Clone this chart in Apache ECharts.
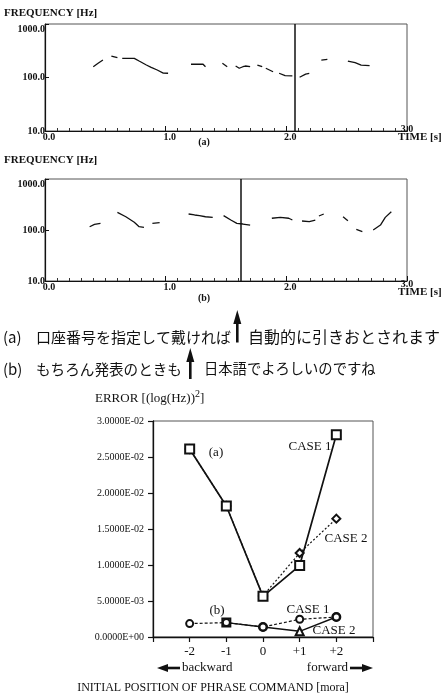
<!DOCTYPE html>
<html><head><meta charset="utf-8">
<script src="https://cdn.jsdelivr.net/npm/echarts@6/dist/echarts.min.js"></script>
<style>html,body{margin:0;padding:0;background:#fff}#c{width:442px;height:696px}</style>
</head><body><div id="c"></div>
<script>
// ---------- data ----------
const freqTicks = [10, 100, 1000];
const timeRange = [0, 3];
const markerTimeA = 2.07;
const markerTimeB = 1.62;

// F0 contour segments, panel (a): [time s, frequency Hz]
const f0A1 = [[0.40,159],[0.44,184],[0.48,212]];
const f0A2 = [[0.55,252],[0.60,234]];
const f0A3 = [[0.64,228],[0.74,228],[0.78,203],[0.84,171],[0.88,155],[0.93,138],[0.98,121],[1.02,120]];
const f0A4 = [[1.21,177],[1.31,177],[1.33,159]];
const f0A5 = [[1.47,184],[1.51,159]];
const f0A6 = [[1.58,164],[1.61,149],[1.64,159],[1.66,164],[1.70,159]];
const f0A7 = [[1.76,171],[1.80,159]];
const f0A8 = [[1.83,149],[1.89,128]];
const f0A9 = [[1.94,120],[1.99,108],[2.05,107]];
const f0A10 = [[2.11,101],[2.16,116],[2.19,120]];
const f0A11 = [[2.29,212],[2.34,219]];
const f0A12 = [[2.51,203],[2.57,189],[2.62,171],[2.69,166]];

// F0 contour segments, panel (b)
const f0B1 = [[0.37,116],[0.41,129],[0.46,135]];
const f0B2 = [[0.60,222],[0.67,182],[0.74,142],[0.78,116],[0.82,113]];
const f0B3 = [[0.89,135],[0.95,139]];
const f0B4 = [[1.19,206],[1.24,197],[1.28,191],[1.33,182],[1.39,177]];
const f0B5 = [[1.48,191],[1.54,157],[1.59,135],[1.64,131],[1.70,125]];
const f0B6 = [[1.88,170],[1.95,177],[2.02,170],[2.05,157]];
const f0B7 = [[2.13,150],[2.19,146],[2.24,157]];
const f0B8 = [[2.27,188],[2.31,206]];
const f0B9 = [[2.47,182],[2.51,152]];
const f0B10 = [[2.58,103],[2.63,93]];
const f0B11 = [[2.72,100],[2.78,125],[2.82,177],[2.87,228]];

// Error chart
const positions = [-2, -1, 0, 1, 2];
const positionLabels = ['-2', '-1', '0', '+1', '+2'];
const errA_case1 = [0.0261, 0.0182, 0.00565, 0.00992, 0.0281];
const errA_case2 = [0.0261, 0.0182, 0.0057, 0.01167, 0.01644];
const errB_case1 = [0.00186, 0.0020, 0.00139, 0.00246, 0.00278];
const errB_case2 = [null, 0.0020, 0.00139, 0.00079, 0.00278];
const errTicks = [0, 0.005, 0.01, 0.015, 0.02, 0.025, 0.03];

// ---------- styles ----------
const INK = '#111';
const SERIF = '"Liberation Serif", "Times New Roman", serif';
const JP = '"Noto Sans CJK JP", sans-serif';
const symB2 = ['none', 'emptyRect', 'emptyCircle', 'emptyTriangle', 'emptyCircle'];

const segsA = [f0A1,f0A2,f0A3,f0A4,f0A5,f0A6,f0A7,f0A8,f0A9,f0A10,f0A11,f0A12];
const segsB = [f0B1,f0B2,f0B3,f0B4,f0B5,f0B6,f0B7,f0B8,f0B9,f0B10,f0B11];

function fmtE(v) {
  if (v === 0) return '0.0000E+00';
  const s = v.toExponential(4);
  const [m, e] = s.split('e');
  const n = parseInt(e, 10);
  const sign = n < 0 ? '-' : '+';
  const a = Math.abs(n);
  return m + 'E' + sign + (a < 10 ? '0' + a : a);
}

function panelX(gi) {
  return {
    gridIndex: gi, type: 'value', min: timeRange[0], max: timeRange[1], interval: 1,
    axisLine: { onZero: false, lineStyle: { color: INK, width: 1.2 } },
    axisTick: { inside: true, length: 5, lineStyle: { color: INK } },
    minorTick: { show: true, splitNumber: 10, length: 3, lineStyle: { color: '#333', width: 1 } },
    splitLine: { show: false }, minorSplitLine: { show: false },
    axisLabel: {
      formatter: v => v.toFixed(1), showMaxLabel: false,
      fontFamily: SERIF, fontWeight: 'bold', fontSize: 10, color: INK,
      margin: 1, padding: [0, 0, 0, 8]
    }
  };
}
function panelY(gi) {
  return {
    gridIndex: gi, type: 'log', logBase: 10, min: freqTicks[0], max: freqTicks[freqTicks.length - 1],
    axisLine: { show: true, onZero: false, lineStyle: { color: INK, width: 1.2 } },
    axisTick: { show: true, inside: true, length: 4, lineStyle: { color: INK } },
    splitLine: { show: false },
    axisLabel: {
      formatter: v => (v >= 1000 ? '{t|' + v.toFixed(1) + '}' : v.toFixed(1)),
      rich: { t: { fontFamily: SERIF, fontWeight: 'bold', fontSize: 10, color: INK, padding: [10, 0, 0, 0] } },
      fontFamily: SERIF, fontWeight: 'bold', fontSize: 10, color: INK, margin: 0
    }
  };
}

const series = [];
segsA.forEach(s => series.push({
  type: 'line', xAxisIndex: 0, yAxisIndex: 0, data: s, showSymbol: false, smooth: false,
  lineStyle: { color: INK, width: 1.3 }, silent: true, animation: false
}));
segsB.forEach(s => series.push({
  type: 'line', xAxisIndex: 1, yAxisIndex: 1, data: s, showSymbol: false,
  lineStyle: { color: INK, width: 1.3 }, silent: true, animation: false
}));
// marker lines
series.push({
  type: 'line', xAxisIndex: 0, yAxisIndex: 0, data: [], animation: false,
  markLine: { silent: true, symbol: 'none', label: { show: false },
    lineStyle: { color: INK, width: 1.5, type: 'solid' }, data: [{ xAxis: markerTimeA }] }
});
series.push({
  type: 'line', xAxisIndex: 1, yAxisIndex: 1, data: [], animation: false,
  markLine: { silent: true, symbol: 'none', label: { show: false },
    lineStyle: { color: INK, width: 1.5, type: 'solid' }, data: [{ xAxis: markerTimeB }] }
});

const zip = arr => positions.map((p, i) => [p, arr[i] === null ? '-' : arr[i]]);

series.push({
  name: '(a) CASE 2', type: 'line', xAxisIndex: 2, yAxisIndex: 2, data: zip(errA_case2),
  symbol: 'emptyDiamond', symbolSize: 8, animation: false,
  lineStyle: { color: INK, width: 1.2, type: [2, 2] },
  itemStyle: { color: INK, borderWidth: 1.5 }
});
series.push({
  name: '(a) CASE 1', type: 'line', xAxisIndex: 2, yAxisIndex: 2, data: zip(errA_case1),
  symbol: 'emptyRect', symbolSize: 9, animation: false,
  lineStyle: { color: INK, width: 1.7 },
  itemStyle: { color: INK, borderWidth: 1.8 }
});
series.push({
  name: '(b) CASE 2', type: 'line', xAxisIndex: 2, yAxisIndex: 2, data: zip(errB_case2),
  symbol: (v, p) => symB2[p.dataIndex], symbolSize: 8, animation: false, connectNulls: false,
  lineStyle: { color: INK, width: 1.4 },
  itemStyle: { color: INK, borderWidth: 1.5 }
});
series.push({
  name: '(b) CASE 1', type: 'line', xAxisIndex: 2, yAxisIndex: 2, data: zip(errB_case1),
  symbol: 'emptyCircle', symbolSize: 7, animation: false,
  lineStyle: { color: INK, width: 1.2, type: [3, 2] },
  itemStyle: { color: INK, borderWidth: 1.5 }
});

function txt(text, x, y, font, align, extra) {
  return Object.assign({ type: 'text', x: x, y: y, silent: true,
    style: { text: text, font: font, fill: INK, align: align || 'left', verticalAlign: 'middle' } }, extra || {});
}
const bold11 = 'bold 11px ' + SERIF;
const bold10 = 'bold 10px ' + SERIF;
const s13 = '13px ' + SERIF;

const graphic = [
  txt('FREQUENCY [Hz]', 4, 13, bold11),
  txt('TIME [s]', 398, 137, bold11),
  txt('3.0', 407, 129, bold10, 'center'),
  txt('(a)', 204, 142, bold10, 'center'),
  txt('FREQUENCY [Hz]', 4, 160, bold11),
  txt('TIME [s]', 398, 292, bold11),
  txt('3.0', 407, 284, bold10, 'center'),
  txt('(b)', 204, 298, bold10, 'center'),
  // Japanese sentences
  txt('(a)', 3, 337, '15px ' + JP),
  txt('口座番号を指定して戴ければ', 36, 337, '15px ' + JP),
  txt('自動的に引きおとされます', 248, 337, '16px ' + JP),
  txt('(b)', 3, 369, '15px ' + JP),
  txt('もちろん発表のときも', 36, 369, '14.6px ' + JP),
  txt('日本語でよろしいのですね', 204, 369, '14.3px ' + JP),
  { type: 'line', silent: true, shape: { x1: 237.3, y1: 322, x2: 237.3, y2: 342.5 }, style: { stroke: INK, lineWidth: 2.6 } },
  { type: 'polygon', silent: true, shape: { points: [[237.3, 310], [233.3, 324], [241.3, 324]] }, style: { fill: INK } },
  { type: 'line', silent: true, shape: { x1: 190.3, y1: 360, x2: 190.3, y2: 379 }, style: { stroke: INK, lineWidth: 2.6 } },
  { type: 'polygon', silent: true, shape: { points: [[190.3, 348], [186.3, 362], [194.3, 362]] }, style: { fill: INK } },
  // error chart texts
  { type: 'text', x: 95, y: 397, silent: true, style: {
      text: '{m|ERROR [(log(Hz))}{s|2}{m|]}', fill: INK, verticalAlign: 'middle',
      rich: { m: { font: s13, lineHeight: 16, verticalAlign: 'bottom', fill: INK },
              s: { font: '10px ' + SERIF, lineHeight: 9, verticalAlign: 'top', fill: INK } } } },
  txt('(a)', 216, 453, s13, 'center'),
  txt('CASE 1', 310, 447, s13, 'center'),
  txt('CASE 2', 346, 539, s13, 'center'),
  txt('(b)', 217, 611, s13, 'center'),
  txt('CASE 1', 308, 610, s13, 'center'),
  txt('CASE 2', 334, 631, s13, 'center'),
  txt('backward', 182, 668, s13),
  txt('forward', 348, 668, s13, 'right'),
  { type: 'line', silent: true, shape: { x1: 164, y1: 668, x2: 180, y2: 668 }, style: { stroke: INK, lineWidth: 2.6 } },
  { type: 'polygon', silent: true, shape: { points: [[157, 668], [168, 664], [168, 672]] }, style: { fill: INK } },
  { type: 'line', silent: true, shape: { x1: 350, y1: 668, x2: 365, y2: 668 }, style: { stroke: INK, lineWidth: 2.6 } },
  { type: 'polygon', silent: true, shape: { points: [[373, 668], [362, 664], [362, 672]] }, style: { fill: INK } },
  txt('INITIAL POSITION OF PHRASE COMMAND [mora]', 213, 688, '12px ' + SERIF, 'center')
];

const option = {
  backgroundColor: '#fff',
  animation: false,
  grid: [
    { left: 45, top: 24, width: 362, height: 107, show: true, borderColor: '#555', borderWidth: 1 },
    { left: 45, top: 179, width: 362, height: 102, show: true, borderColor: '#555', borderWidth: 1 },
    { left: 153, top: 421, width: 220, height: 216, show: true, borderColor: '#555', borderWidth: 1 }
  ],
  xAxis: [
    panelX(0), panelX(1),
    { gridIndex: 2, type: 'value', min: -3, max: 3, interval: 1,
      axisLine: { onZero: false, lineStyle: { color: INK, width: 1.3 } },
      axisTick: { inside: false, length: 5, lineStyle: { color: INK, width: 1.2 } },
      splitLine: { show: false },
      axisLabel: { formatter: v => { const i = positions.indexOf(v); return i < 0 ? '' : positionLabels[i]; },
        fontFamily: SERIF, fontSize: 13, color: INK, margin: 8 } }
  ],
  yAxis: [
    panelY(0), panelY(1),
    { gridIndex: 2, type: 'value', min: errTicks[0], max: errTicks[errTicks.length - 1], interval: 0.005,
      axisLine: { show: true, onZero: false, lineStyle: { color: INK, width: 1.3 } },
      axisTick: { show: true, inside: false, length: 5, lineStyle: { color: INK, width: 1.2 } },
      splitLine: { show: false },
      axisLabel: { formatter: fmtE, fontFamily: SERIF, fontSize: 10, color: INK, margin: 9 } }
  ],
  series: series,
  graphic: graphic
};

const chart = echarts.init(document.getElementById('c'), null, { renderer: 'canvas' });
chart.setOption(option);
</script>
</body></html>
